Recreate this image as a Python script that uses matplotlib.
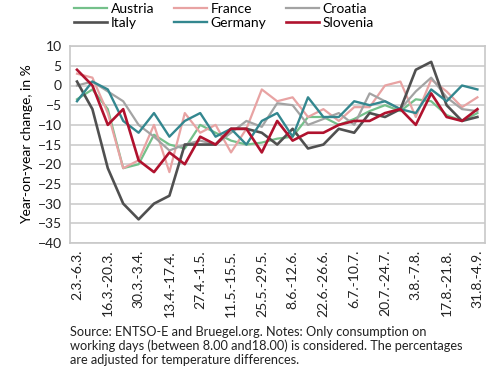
import numpy as np
import matplotlib.pyplot as plt

plt.rcParams['font.family'] = ['Lato', 'DejaVu Sans']

# Weeks (every other one gets a tick label)
weeks = ['2.3.-6.3.', '9.3.-13.3.', '16.3.-20.3.', '23.3.-27.3.', '30.3.-3.4.',
         '6.4.-10.4.', '13.4.-17.4.', '20.4.-24.4.', '27.4.-1.5.', '4.5.-8.5.',
         '11.5.-15.5.', '18.5.-22.5.', '25.5.-29.5.', '1.6.-5.6.', '8.6.-12.6.',
         '15.6.-19.6.', '22.6.-26.6.', '29.6.-3.7.', '6.7.-10.7.', '13.7.-17.7.',
         '20.7.-24.7.', '27.7.-31.7.', '3.8.-7.8.', '10.8.-14.8.', '17.8.-21.8.',
         '24.8.-28.8.', '31.8.-4.9.']

austria = [-3.5, -1, -6, -21, -20, -12.5, -15, -16, -10, -12, -14, -15, -14.5,
           -13.5, -13, -8, -8, -10, -8.5, -6.5, -5, -6.5, -3.5, -4, -7.5, -9, -7]
france = [3, 2, -7, -21, -19, -10, -22, -7, -12, -10, -17, -11, -1,
          -4, -3, -8, -6, -9, -5.5, -5.5, 0, 1, -8, 1.5, -1.5, -5.5, -3]
croatia = [0, 1, -1.5, -4, -10, -13, -16.5, -15, -14, -15, -12, -9, -10.5,
           -4.5, -5, -10, -8.5, -7, -10, -2, -4, -6, -1.5, 2, -3, -6, -6.5]
italy = [1, -6, -21, -30, -34, -30, -28, -15, -15, -15, -11, -11, -12,
         -15, -11, -16, -15, -11, -12, -7, -8, -6, 4, 6, -5, -9, -8]
germany = [-4, 1, -1, -9, -12, -7, -13, -9, -7, -13, -11, -15, -9,
           -7, -13, -3, -8, -8, -4, -5, -4, -6, -7, -1, -4, 0, -1]
slovenia = [4, 0, -10, -6, -19, -22, -17, -20, -13, -15, -11, -11, -17,
            -9, -14, -12, -12, -10, -9, -9, -7, -6, -10, -2, -8, -9, -6]

series = [('Austria', austria, '#74c08a', 1.6),
          ('France', france, '#e8a3a3', 1.6),
          ('Croatia', croatia, '#a3a3a3', 1.6),
          ('Italy', italy, '#505050', 1.9),
          ('Germany', germany, '#33878f', 1.7),
          ('Slovenia', slovenia, '#b0122e', 1.9)]

fig = plt.figure(figsize=(4.9, 3.75), dpi=100)
ax = fig.add_axes([0.143, 0.352, 0.847, 0.525])

x = np.arange(len(weeks))
lines = {}
for name, vals, col, lw in series:
    lines[name], = ax.plot(x, vals, color=col, linewidth=lw, label=name)

ax.set_xlim(-0.45, len(weeks) - 0.5)
ax.set_ylim(-40, 10)
ax.set_yticks(np.arange(-40, 11, 5))
ax.set_xticks(x[::2])
ax.set_xticklabels(weeks[::2], rotation=90, va='top', ha='center')
ax.tick_params(axis='both', length=0, labelsize=10, colors='#222222')
ax.tick_params(axis='x', pad=5)
ax.tick_params(axis='y', pad=6)
ax.grid(axis='y', color='#cccccc', linewidth=1.2)
ax.set_axisbelow(True)
for sp in ax.spines.values():
    sp.set_color('#c8c8c8')
    sp.set_linewidth(1.2)
ax.set_ylabel('Year-on-year change, in %', fontsize=10, labelpad=3)

# legend filled column by column -> order so rows read Austria/France/Croatia
order = ['Austria', 'Italy', 'France', 'Germany', 'Croatia', 'Slovenia']
fig.legend([lines[n] for n in order], order, loc='upper left',
           bbox_to_anchor=(0.125, 1.025), ncol=3, frameon=False, fontsize=10,
           handlelength=2.4, handletextpad=0.25, columnspacing=1.4,
           labelspacing=0.15)

fig.text(0.143, 0.13,
         'Source: ENTSO-E and Bruegel.org. Notes: Only consumption on\n'
         'working days (between 8.00 and18.00) is considered. The percentages\n'
         'are adjusted for temperature differences.',
         fontsize=9.2, va='top', ha='left', linespacing=1.15, color='#222222')

fig.savefig('out.png', dpi=100)
